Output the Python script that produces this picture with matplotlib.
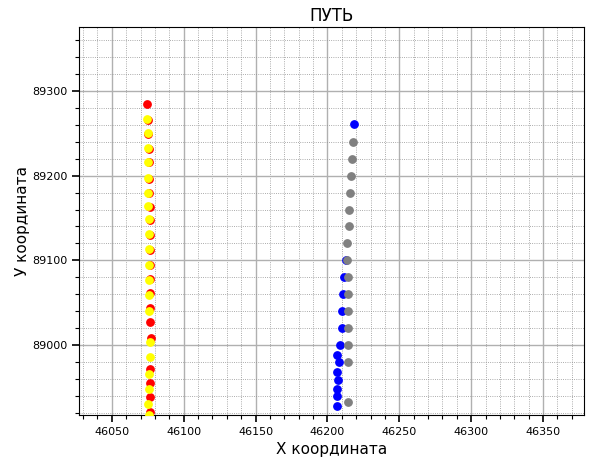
import matplotlib
matplotlib.use("Agg")
import matplotlib.pyplot as plt
from matplotlib.ticker import MultipleLocator

red_x = [46074.6, 46075.3, 46075.5, 46075.6, 46075.8, 46076.0, 46076.1, 46076.3, 46076.5,
         46076.6, 46076.7, 46076.8, 46076.8, 46076.9, 46076.9, 46076.9, 46077.6, 46076.9,
         46076.9, 46076.9, 46076.7]
red_y = [89284.3, 89265.5, 89249.0, 89231.5, 89215.5, 89196.0, 89179.0, 89163.0, 89147.5,
         89130.0, 89112.5, 89094.5, 89078.0, 89061.5, 89043.7, 89026.8, 89008.6, 88972.5,
         88955.5, 88938.9, 88921.2]

yellow_x = [46074.6, 46075.1, 46075.1, 46075.1, 46075.3, 46075.3, 46075.3, 46075.6, 46075.6,
            46075.8, 46075.8, 46075.8, 46076.0, 46076.0, 46076.4, 46076.4, 46075.7, 46076.0,
            46075.3, 46076.0]
yellow_y = [89266.6, 89250.0, 89232.3, 89216.5, 89196.9, 89179.9, 89164.2, 89148.5, 89131.1,
            89113.4, 89095.1, 89077.4, 89059.1, 89040.2, 89003.2, 88985.5, 88965.8, 88948.9,
            88930.3, 88917.3]

blue_x = [46218.4, 46212.9, 46211.5, 46211.0, 46210.3, 46209.9, 46208.7, 46206.6, 46208.2,
          46206.4, 46207.3, 46206.6, 46206.8, 46206.4]
blue_y = [89261.0, 89100.0, 89080.0, 89060.0, 89040.0, 89020.0, 89000.0, 88989.0, 88980.0,
          88968.5, 88959.5, 88948.0, 88940.0, 88928.0]

gray_x = [46218.0, 46217.0, 46216.6, 46215.7, 46215.2, 46214.8, 46213.8, 46213.6, 46214.1,
          46214.1, 46214.1, 46214.3, 46214.3, 46214.3, 46214.3]
gray_y = [89240.0, 89220.0, 89200.0, 89180.0, 89160.0, 89140.0, 89120.0, 89100.0, 89080.0,
          89060.0, 89040.0, 89020.0, 89000.0, 88980.0, 88933.0]

title = "ПУТЬ"
xlabel = "X координата"
ylabel = "У координата"

fig = plt.figure(figsize=(5.92, 4.61), dpi=100)
ax = fig.add_axes([0.1334, 0.0998, 0.8531, 0.8416])

ms = 28
ax.scatter(red_x, red_y, color="red", s=ms, zorder=3)
ax.scatter(yellow_x, yellow_y, color="yellow", s=ms, zorder=3)
ax.scatter(blue_x, blue_y, color="blue", s=ms, zorder=3)
ax.scatter(gray_x, gray_y, color="gray", s=ms, zorder=3)

ax.set_xlim(46027.2, 46378.5)
ax.set_ylim(88917.7, 89375.2)

ax.xaxis.set_major_locator(MultipleLocator(50))
ax.xaxis.set_minor_locator(MultipleLocator(10))
ax.yaxis.set_major_locator(MultipleLocator(100))
ax.yaxis.set_minor_locator(MultipleLocator(20))

ax.grid(which="major", color="#b0b0b0", linestyle="-", linewidth=1.0, zorder=0)
ax.grid(which="minor", color="#909090", linestyle=":", linewidth=0.6, zorder=0)
ax.set_axisbelow(True)

ax.tick_params(which="major", labelsize=8, length=5, width=1.2)
ax.tick_params(which="minor", length=3, width=0.8)

ax.set_title(title, fontsize=12, pad=4)
ax.set_xlabel(xlabel, fontsize=11)
ax.set_ylabel(ylabel, fontsize=11, labelpad=1)

fig.savefig("out.png", dpi=100)
